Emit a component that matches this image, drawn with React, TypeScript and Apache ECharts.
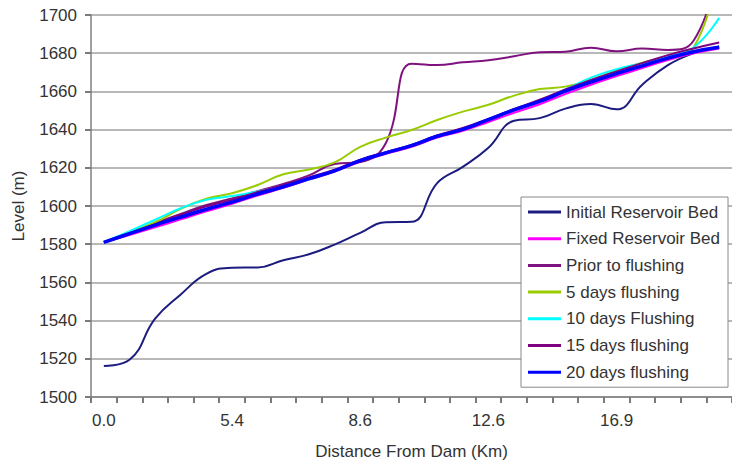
import React, { useEffect, useRef } from "react";
import * as echarts from "echarts";

// 25 cross-sections (category axis); only every 5th distance label is shown
const sectionCount = 25;
const tickLabels = ["0.0", "5.4", "8.6", "12.6", "16.9"];
const categories = Array.from({ length: sectionCount }, (_, i) => String(i));

const initialBed = [
  1516.2, 1519.5, 1541, 1553.7, 1564.5, 1567.7, 1567.8, 1571.6, 1574.7, 1579.8,
  1585.9, 1591.5, 1591.7, 1612, 1620.5, 1630.5, 1644.6, 1646, 1651, 1653.4,
  1650.6, 1663.5, 1673.8, 1680, 1683.5,
];
const fixedBed = [
  1581, 1584.8, 1588.8, 1593, 1597.2, 1601.2, 1605.5, 1609.5, 1613.8, 1618,
  1623.2, 1627.3, 1631, 1635.8, 1639.4, 1644, 1648.8, 1653.3, 1658.6, 1663.5,
  1668, 1672.2, 1676.4, 1679.9, 1682.5,
];
const priorFlushing = [
  1581, 1586, 1591, 1595.8, 1600.5, 1604, 1607.8, 1611.5, 1616, 1622,
  1623, 1633, 1674.5, 1673.8, 1675.2, 1676.3, 1678.4, 1680.5, 1680.8, 1682.9,
  1681, 1682.4, 1681.7, 1686.5, 1725,
];
const days5 = [
  1581, 1586.3, 1591.5, 1598.5, 1603.8, 1606.7, 1611, 1616.6, 1619.1, 1622.8,
  1631, 1635.8, 1639.8, 1645, 1649.4, 1653, 1657.8, 1661.2, 1662.5, 1666,
  1671, 1675, 1678.2, 1683, 1725,
];
const days10 = [
  1581, 1586.8, 1592.8, 1598.8, 1603.3, 1605.2, 1607.6, 1610.7, 1613.8, 1618.5,
  1624, 1628, 1632, 1636.8, 1640.5, 1645.5, 1650.6, 1655.3, 1661, 1667.2,
  1671.6, 1674.8, 1678.2, 1683, 1698.5,
];
const days15 = [
  1581, 1585.8, 1590.5, 1595.3, 1599.8, 1603.2, 1607.3, 1611, 1615, 1619,
  1624.3, 1628.2, 1632, 1637, 1640.8, 1645.6, 1650.8, 1655.6, 1661, 1666,
  1670.5, 1674.8, 1679, 1682.5, 1685.6,
];
const days20 = [
  1581, 1585.5, 1590, 1594.2, 1598.3, 1602, 1606.3, 1610, 1614.3, 1618.4,
  1623.8, 1627.8, 1631.6, 1636.5, 1640.1, 1645.2, 1650.3, 1654.8, 1660.1, 1664.9,
  1669.3, 1673.4, 1677.4, 1680.8, 1683.1,
];

const seriesDefs = [
  { name: "Initial Reservoir Bed", data: initialBed, color: "#1c1c80", width: 2 },
  { name: "Fixed Reservoir Bed", data: fixedBed, color: "#ff00ff", width: 2 },
  { name: "Prior to flushing", data: priorFlushing, color: "#7f127f", width: 2 },
  { name: "5 days flushing", data: days5, color: "#99cc00", width: 2 },
  { name: "10 days Flushing", data: days10, color: "#00ffff", width: 2 },
  { name: "15 days flushing", data: days15, color: "#800080", width: 2 },
  { name: "20 days flushing", data: days20, color: "#0000ff", width: 3.5 },
];

export default function App() {
  const ref = useRef<HTMLDivElement>(null);
  useEffect(() => {
    if (!ref.current) return;
    const chart = echarts.init(ref.current, null, { renderer: "svg" });
    const font = "Liberation Sans, Arial, sans-serif";
    const tickStyle = { color: "#7a7a7a", width: 2 };
    chart.setOption({
      animation: false,
      backgroundColor: "#fff",
      textStyle: { fontFamily: font },
      grid: { left: 91, top: 15, bottom: 68, right: -6.5, containLabel: false },
      xAxis: {
        type: "category",
        data: categories,
        boundaryGap: true,
        name: "Distance From Dam (Km)",
        nameLocation: "middle",
        nameGap: 46,
        nameTextStyle: { fontSize: 17, color: "#333", fontFamily: font },
        axisLine: { show: true, lineStyle: { color: "#808080", width: 1.5 } },
        axisTick: { show: true, interval: 0, length: 6, lineStyle: tickStyle },
        axisLabel: {
          interval: 4,
          margin: 15,
          fontSize: 17,
          color: "#333",
          fontFamily: font,
          formatter: (_v: string, idx: number) => tickLabels[Math.floor(idx / 5)] ?? "",
        },
        splitLine: { show: false },
      },
      yAxis: {
        type: "value",
        min: 1500,
        max: 1700,
        interval: 20,
        name: "Level (m)",
        nameLocation: "middle",
        nameGap: 64,
        nameTextStyle: { fontSize: 17, color: "#333", fontFamily: font },
        axisLine: { show: true, lineStyle: { color: "#808080", width: 1.5 } },
        axisTick: { show: true, length: 6, lineStyle: tickStyle },
        axisLabel: {
          margin: 14,
          fontSize: 17,
          color: "#333",
          fontFamily: font,
          formatter: (v: number) => String(v),
        },
        splitLine: { show: true, lineStyle: { color: "#a0a0a0", width: 1.6 } },
      },
      legend: {
        orient: "vertical",
        left: 521,
        top: 197,
        backgroundColor: "#fff",
        borderColor: "#888",
        borderWidth: 1,
        padding: [5, 8, 5, 7],
        itemGap: 6.7,
        itemWidth: 33,
        itemHeight: 3,
        icon: "rect",
        textStyle: { fontSize: 17, color: "#333", fontFamily: font, lineHeight: 20 },
        data: seriesDefs.map((s) => s.name),
      },
      series: seriesDefs.map((s) => ({
        name: s.name,
        type: "line",
        data: s.data,
        smooth: 0.45,
        symbol: "none",
        showSymbol: false,
        clip: true,
        color: s.color,
        lineStyle: { color: s.color, width: s.width },
        itemStyle: { color: s.color },
      })),
    });
    return () => chart.dispose();
  }, []);
  return (
    <div
      ref={ref}
      style={{ position: "absolute", left: 0, top: 0, width: 732, height: 465 }}
    />
  );
}
